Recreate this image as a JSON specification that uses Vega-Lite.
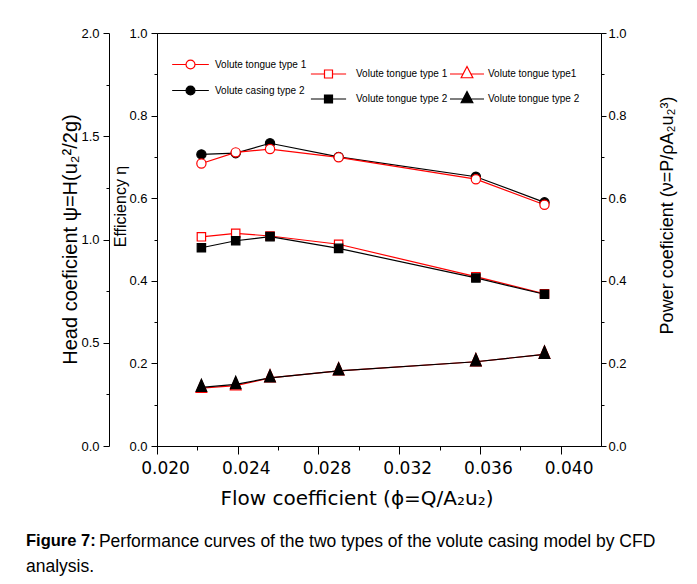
{
  "$schema": "https://vega.github.io/schema/vega-lite/v6.json",
  "width": 444,
  "height": 413,
  "autosize": {"type": "none"},
  "padding": {"left": 157, "top": 33, "right": 96, "bottom": 138},
  "background": "white",
  "title": {
    "text": "Figure 7:",
    "subtitle": ["\u200b\u00a0\u00a0\u00a0\u00a0\u00a0\u00a0\u00a0\u00a0\u00a0\u00a0\u00a0\u00a0\u00a0\u00a0\u00a0Performance curves of the two types of the volute casing model by CFD", "analysis."],
    "orient": "bottom",
    "anchor": "start",
    "frame": "group",
    "dx": -131,
    "offset": 25,
    "font": "Liberation Sans",
    "fontSize": 16.5,
    "fontWeight": "bold",
    "color": "#000000",
    "subtitleFont": "Liberation Sans",
    "subtitleFontSize": 17.5,
    "subtitleFontWeight": "normal",
    "subtitleColor": "#000000",
    "subtitleLineHeight": 25,
    "subtitlePadding": -17
  },
  "datasets": {
    "head": [
      {"phi": 0.0222, "value": 1.013, "series": "Volute tongue type 1"},
      {"phi": 0.0239, "value": 1.030, "series": "Volute tongue type 1"},
      {"phi": 0.0256, "value": 1.017, "series": "Volute tongue type 1"},
      {"phi": 0.0290, "value": 0.977, "series": "Volute tongue type 1"},
      {"phi": 0.0358, "value": 0.820, "series": "Volute tongue type 1"},
      {"phi": 0.0392, "value": 0.737, "series": "Volute tongue type 1"},
      {"phi": 0.0222, "value": 0.960, "series": "Volute tongue type 2"},
      {"phi": 0.0239, "value": 0.994, "series": "Volute tongue type 2"},
      {"phi": 0.0256, "value": 1.014, "series": "Volute tongue type 2"},
      {"phi": 0.0290, "value": 0.957, "series": "Volute tongue type 2"},
      {"phi": 0.0358, "value": 0.814, "series": "Volute tongue type 2"},
      {"phi": 0.0392, "value": 0.735, "series": "Volute tongue type 2"}
    ],
    "efficiency": [
      {"phi": 0.0222, "value": 0.706, "series": "Volute casing type 2"},
      {"phi": 0.0239, "value": 0.709, "series": "Volute casing type 2"},
      {"phi": 0.0256, "value": 0.733, "series": "Volute casing type 2"},
      {"phi": 0.0290, "value": 0.700, "series": "Volute casing type 2"},
      {"phi": 0.0358, "value": 0.652, "series": "Volute casing type 2"},
      {"phi": 0.0392, "value": 0.590, "series": "Volute casing type 2"},
      {"phi": 0.0222, "value": 0.684, "series": "Volute tongue type 1"},
      {"phi": 0.0239, "value": 0.711, "series": "Volute tongue type 1"},
      {"phi": 0.0256, "value": 0.719, "series": "Volute tongue type 1"},
      {"phi": 0.0290, "value": 0.699, "series": "Volute tongue type 1"},
      {"phi": 0.0358, "value": 0.646, "series": "Volute tongue type 1"},
      {"phi": 0.0392, "value": 0.584, "series": "Volute tongue type 1"}
    ],
    "power": [
      {"phi": 0.0222, "value": 0.140, "series": "Volute tongue type1"},
      {"phi": 0.0239, "value": 0.146, "series": "Volute tongue type1"},
      {"phi": 0.0256, "value": 0.165, "series": "Volute tongue type1"},
      {"phi": 0.0290, "value": 0.182, "series": "Volute tongue type1"},
      {"phi": 0.0358, "value": 0.204, "series": "Volute tongue type1"},
      {"phi": 0.0392, "value": 0.222, "series": "Volute tongue type1"},
      {"phi": 0.0222, "value": 0.142, "series": "Volute tongue type 2"},
      {"phi": 0.0239, "value": 0.149, "series": "Volute tongue type 2"},
      {"phi": 0.0256, "value": 0.165, "series": "Volute tongue type 2"},
      {"phi": 0.0290, "value": 0.182, "series": "Volute tongue type 2"},
      {"phi": 0.0358, "value": 0.204, "series": "Volute tongue type 2"},
      {"phi": 0.0392, "value": 0.222, "series": "Volute tongue type 2"}
    ]
  },
  "layer": [
    {
      "data": {"name": "head"},
      "mark": {"type": "line", "strokeWidth": 1.2},
      "encoding": {
        "x": {
          "field": "phi", "type": "quantitative",
          "scale": {"domain": [0.02, 0.042], "nice": false, "zero": false},
          "axis": {
            "orient": "bottom",
            "values": [0.020, 0.022, 0.024, 0.026, 0.028, 0.030, 0.032, 0.034, 0.036, 0.038, 0.040],
            "labelExpr": "round(datum.value*1000) % 4 == 0 ? format(datum.value, '.3f') : ''",
            "tickSize": {"condition": {"test": "round(datum.value*1000) % 4 != 0", "value": 4}, "value": 8},
            "labelFont": "DejaVu Sans",
            "labelFontSize": 17,
            "labelPadding": 6,
            "labelOffset": 8,
            "labelFlush": false,
            "labelOverlap": false,
            "title": "Flow coefficient (ϕ=Q/A₂u₂)",
            "titleFont": "DejaVu Sans",
            "titleFontSize": 20,
            "titleFontWeight": "normal",
            "titleX": 63,
            "titleY": 58,
            "titleAlign": "left",
            "titleBaseline": "alphabetic"
          }
        },
        "y": {"field": "value", "type": "quantitative", "scale": {"domain": [0, 2], "nice": false, "zero": false}, "axis": null},
        "stroke": {"field": "series", "type": "nominal", "scale": {"domain": ["Volute tongue type 1", "Volute tongue type 2"], "range": ["#ff0000", "#000000"]}, "legend": null}
      }
    },
    {
      "data": {"name": "head"},
      "mark": {"type": "point", "shape": "square", "size": 70, "strokeWidth": 1.2, "opacity": 1},
      "encoding": {
        "x": {"field": "phi", "type": "quantitative", "scale": {"domain": [0.02, 0.042], "nice": false, "zero": false}},
        "y": {
          "field": "value", "type": "quantitative",
          "scale": {"domain": [0, 2], "nice": false, "zero": false},
          "axis": {
            "orient": "left",
            "offset": 48,
            "values": [0, 0.25, 0.5, 0.75, 1, 1.25, 1.5, 1.75, 2],
            "labelExpr": "round(datum.value*4) % 2 == 0 ? format(datum.value, '.1f') : ''",
            "tickSize": {"condition": {"test": "round(datum.value*4) % 2 == 1", "value": 3}, "value": 6},
            "labelFont": "Liberation Sans",
            "labelFontSize": 13,
            "labelPadding": 4,
            "labelOverlap": false,
            "labelFlush": false,
            "title": "Head coeficient  ψ=H(u₂²/2g)",
            "titleFont": "Liberation Sans",
            "titleFontSize": 20,
            "titleFontWeight": "normal",
            "titleAngle": 270,
            "titleX": -39,
            "titleY": 206,
            "titleAlign": "center",
            "titleBaseline": "middle"
          }
        },
        "stroke": {
          "field": "series", "type": "nominal",
          "scale": {"domain": ["Volute tongue type 1", "Volute tongue type 2"], "range": ["#ff0000", "#000000"]},
          "legend": {
            "orient": "none", "legendX": 166.5, "legendY": 36, "title": null, "padding": 0, "rowPadding": 11,
            "symbolSize": 64, "symbolStrokeWidth": 1.2, "symbolOffset": 0,
            "labelFont": "Liberation Sans", "labelFontSize": 10, "labelOffset": 22.5, "labelColor": "#000000",
            "encoding": {"symbols": {"shape": {"value": "M-4.4,0H-1M1,0H4.4M-1,-1H1V1H-1Z"}}}
          }
        },
        "fill": {
          "field": "series", "type": "nominal",
          "scale": {"domain": ["Volute tongue type 1", "Volute tongue type 2"], "range": ["#ffffff", "#000000"]},
          "legend": {
            "orient": "none", "legendX": 166.5, "legendY": 36, "title": null, "padding": 0, "rowPadding": 11,
            "symbolSize": 64, "symbolStrokeWidth": 1.2, "symbolOffset": 0,
            "labelFont": "Liberation Sans", "labelFontSize": 10, "labelOffset": 22.5, "labelColor": "#000000",
            "encoding": {"symbols": {"shape": {"value": "M-4.4,0H-1M1,0H4.4M-1,-1H1V1H-1Z"}}}
          }
        }
      }
    },
    {
      "data": {"name": "efficiency"},
      "mark": {"type": "line", "strokeWidth": 1.2},
      "encoding": {
        "x": {"field": "phi", "type": "quantitative", "scale": {"domain": [0.02, 0.042], "nice": false, "zero": false}},
        "y": {"field": "value", "type": "quantitative", "scale": {"domain": [0, 1], "nice": false, "zero": false}, "axis": null},
        "stroke": {"field": "series", "type": "nominal", "scale": {"domain": ["Volute tongue type 1", "Volute casing type 2"], "range": ["#ff0000", "#000000"]}, "legend": null}
      }
    },
    {
      "data": {"name": "efficiency"},
      "mark": {"type": "point", "shape": "circle", "size": 85, "strokeWidth": 1.2, "opacity": 1},
      "encoding": {
        "x": {"field": "phi", "type": "quantitative", "scale": {"domain": [0.02, 0.042], "nice": false, "zero": false}},
        "y": {
          "field": "value", "type": "quantitative",
          "scale": {"domain": [0, 1], "nice": false, "zero": false},
          "axis": {
            "orient": "left",
            "offset": 0,
            "values": [0, 0.1, 0.2, 0.3, 0.4, 0.5, 0.6, 0.7, 0.8, 0.9, 1],
            "labelExpr": "round(datum.value*10) % 2 == 0 ? format(datum.value, '.1f') : ''",
            "tickSize": {"condition": {"test": "round(datum.value*10) % 2 == 1", "value": 3}, "value": 6},
            "labelFont": "Liberation Sans",
            "labelFontSize": 13,
            "labelPadding": 4,
            "labelOverlap": false,
            "labelFlush": false,
            "title": "Efficiency η",
            "titleFont": "Liberation Sans",
            "titleFontSize": 16,
            "titleFontWeight": "normal",
            "titleAngle": 270,
            "titleX": -37,
            "titleY": 173,
            "titleAlign": "center",
            "titleBaseline": "middle"
          }
        },
        "stroke": {
          "field": "series", "type": "nominal",
          "scale": {"domain": ["Volute tongue type 1", "Volute casing type 2"], "range": ["#ff0000", "#000000"]},
          "legend": {
            "orient": "none", "legendX": 28, "legendY": 26, "title": null, "padding": 0, "rowPadding": 11,
            "symbolSize": 80, "symbolStrokeWidth": 1.2, "symbolOffset": 0,
            "labelFont": "Liberation Sans", "labelFontSize": 10, "labelOffset": 19, "labelColor": "#000000",
            "encoding": {"symbols": {"shape": {"value": "M-4.1,0H-1M1,0H4.1M1,0A1,1,0,1,1,-1,0A1,1,0,1,1,1,0Z"}}}
          }
        },
        "fill": {
          "field": "series", "type": "nominal",
          "scale": {"domain": ["Volute tongue type 1", "Volute casing type 2"], "range": ["#ffffff", "#000000"]},
          "legend": {
            "orient": "none", "legendX": 28, "legendY": 26, "title": null, "padding": 0, "rowPadding": 11,
            "symbolSize": 80, "symbolStrokeWidth": 1.2, "symbolOffset": 0,
            "labelFont": "Liberation Sans", "labelFontSize": 10, "labelOffset": 19, "labelColor": "#000000",
            "encoding": {"symbols": {"shape": {"value": "M-4.1,0H-1M1,0H4.1M1,0A1,1,0,1,1,-1,0A1,1,0,1,1,1,0Z"}}}
          }
        }
      }
    },
    {
      "data": {"name": "power"},
      "mark": {"type": "line", "strokeWidth": 1.2},
      "encoding": {
        "x": {"field": "phi", "type": "quantitative", "scale": {"domain": [0.02, 0.042], "nice": false, "zero": false}},
        "y": {"field": "value", "type": "quantitative", "scale": {"domain": [0, 1], "nice": false, "zero": false}, "axis": null},
        "stroke": {"field": "series", "type": "nominal", "scale": {"domain": ["Volute tongue type1", "Volute tongue type 2"], "range": ["#ff0000", "#000000"]}, "legend": null}
      }
    },
    {
      "data": {"name": "power"},
      "mark": {"type": "point", "shape": "M0,-1.64L1.07,0.82L-1.07,0.82Z", "size": 100, "strokeWidth": 1.2, "opacity": 1},
      "encoding": {
        "x": {"field": "phi", "type": "quantitative", "scale": {"domain": [0.02, 0.042], "nice": false, "zero": false}},
        "y": {
          "field": "value", "type": "quantitative",
          "scale": {"domain": [0, 1], "nice": false, "zero": false},
          "axis": {
            "orient": "right",
            "offset": 0,
            "values": [0, 0.1, 0.2, 0.3, 0.4, 0.5, 0.6, 0.7, 0.8, 0.9, 1],
            "labelExpr": "round(datum.value*10) % 2 == 0 ? format(datum.value, '.1f') : ''",
            "tickSize": {"condition": {"test": "round(datum.value*10) % 2 == 1", "value": 3}, "value": 5},
            "labelFont": "Liberation Sans",
            "labelFontSize": 13,
            "labelPadding": 2,
            "labelOverlap": false,
            "labelFlush": false,
            "title": "Power coeficient (ν=P/ρA₂u₂³)",
            "titleFont": "Liberation Sans",
            "titleFontSize": 18,
            "titleFontWeight": "normal",
            "titleAngle": 270,
            "titleX": 66,
            "titleY": 182,
            "titleAlign": "center",
            "titleBaseline": "middle"
          }
        },
        "stroke": {
          "field": "series", "type": "nominal",
          "scale": {"domain": ["Volute tongue type1", "Volute tongue type 2"], "range": ["#ff0000", "#000000"]},
          "legend": {
            "orient": "none", "legendX": 304, "legendY": 35, "title": null, "padding": 0, "rowPadding": 8,
            "symbolSize": 100, "symbolStrokeWidth": 1.2, "symbolOffset": 0,
            "labelFont": "Liberation Sans", "labelFontSize": 10, "labelOffset": 15, "labelColor": "#000000",
            "encoding": {"symbols": {"shape": {"value": "M-3.4,0H-0.78M0.78,0H3.4M0,-1.5L1.17,0.75L-1.17,0.75Z"}}}
          }
        },
        "fill": {
          "field": "series", "type": "nominal",
          "scale": {"domain": ["Volute tongue type1", "Volute tongue type 2"], "range": ["#ffffff", "#000000"]},
          "legend": {
            "orient": "none", "legendX": 304, "legendY": 35, "title": null, "padding": 0, "rowPadding": 8,
            "symbolSize": 100, "symbolStrokeWidth": 1.2, "symbolOffset": 0,
            "labelFont": "Liberation Sans", "labelFontSize": 10, "labelOffset": 15, "labelColor": "#000000",
            "encoding": {"symbols": {"shape": {"value": "M-3.4,0H-0.78M0.78,0H3.4M0,-1.5L1.17,0.75L-1.17,0.75Z"}}}
          }
        }
      }
    }
  ],
  "resolve": {
    "scale": {"y": "independent", "stroke": "independent", "fill": "independent"},
    "axis": {"y": "independent"},
    "legend": {"stroke": "independent", "fill": "independent"}
  },
  "config": {
    "view": {"stroke": "#000000", "strokeWidth": 1},
    "axis": {
      "grid": false,
      "domainColor": "#000000",
      "tickColor": "#000000",
      "labelColor": "#000000",
      "titleColor": "#000000",
      "domainWidth": 1,
      "tickWidth": 1
    }
  }
}
